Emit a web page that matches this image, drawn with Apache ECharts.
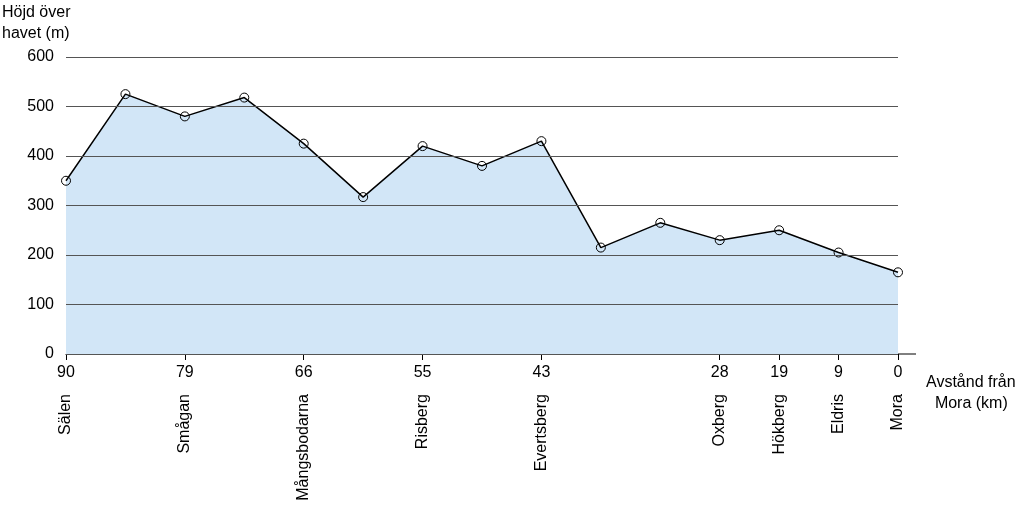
<!DOCTYPE html>
<html><head><meta charset="utf-8">
<script src="https://cdn.jsdelivr.net/npm/echarts@6/dist/echarts.min.js"></script>
<style>body{margin:0}#c{width:1024px;height:518px}</style></head>
<body><div id="c"></div>
<script>
// höjdprofil Vasaloppet
var distLabels = ['90','','79','','66','','55','','43','','','28','19','9','0'];
var placeNames = ['Sälen','','Smågan','','Mångsbodarna','','Risberg','','Evertsberg','','','Oxberg','Hökberg','Eldris','Mora'];
var heights = [350,525,480,518,425,317,420,380,430,215,265,230,250,205,165];

var chart = echarts.init(document.getElementById('c'));
var font = 'Liberation Sans, Arial, sans-serif';
var tickShown = function (i) { return distLabels[i] !== ''; };

chart.setOption({
    animation: false,
    grid: { left: 66, right: 126, top: 57, bottom: 164 },
    xAxis: [
        {
            type: 'category', data: distLabels, boundaryGap: false,
            axisLine: { lineStyle: { color: '#000', width: 1 } },
            axisTick: { interval: tickShown, length: 6, lineStyle: { color: '#000' } },
            axisLabel: { interval: 0, color: '#000', fontSize: 16, fontFamily: font, margin: 11 },
            splitLine: { show: false }
        },
        {
            type: 'category', data: placeNames, boundaryGap: false, position: 'bottom', offset: 34,
            axisLine: { show: false }, axisTick: { show: false },
            axisLabel: { interval: 0, rotate: 90, color: '#000', fontSize: 16, fontFamily: font, margin: 6 }
        }
    ],
    yAxis: {
        type: 'value', min: 0, max: 600, interval: 100, z: 4,
        axisLine: { show: false }, axisTick: { show: false },
        axisLabel: { color: '#000', fontSize: 16, fontFamily: font, margin: 12 },
        splitLine: { lineStyle: { color: '#555', width: 1 } }
    },
    series: [{
        type: 'line', data: heights,
        symbol: 'circle', symbolSize: 9,
        itemStyle: { color: 'rgba(0,0,0,0)', borderColor: '#000', borderWidth: 1 },
        lineStyle: { color: '#000', width: 1.5 },
        areaStyle: { color: '#d2e6f7', opacity: 1 },
        z: 1
    }],
    graphic: [
        { type: 'line', shape: { x1: 898, y1: 354, x2: 916, y2: 354 }, style: { stroke: '#000', lineWidth: 1 } },
        { type: 'text', left: 2, top: 2, style: { text: 'Höjd över\nhavet (m)', font: '16px ' + font, fill: '#000', lineHeight: 21 } },
        { type: 'text', left: 926, top: 372, style: { text: 'Avstånd från\n  Mora (km)', font: '16px ' + font, fill: '#000', lineHeight: 21 } }
    ]
});
</script></body></html>
